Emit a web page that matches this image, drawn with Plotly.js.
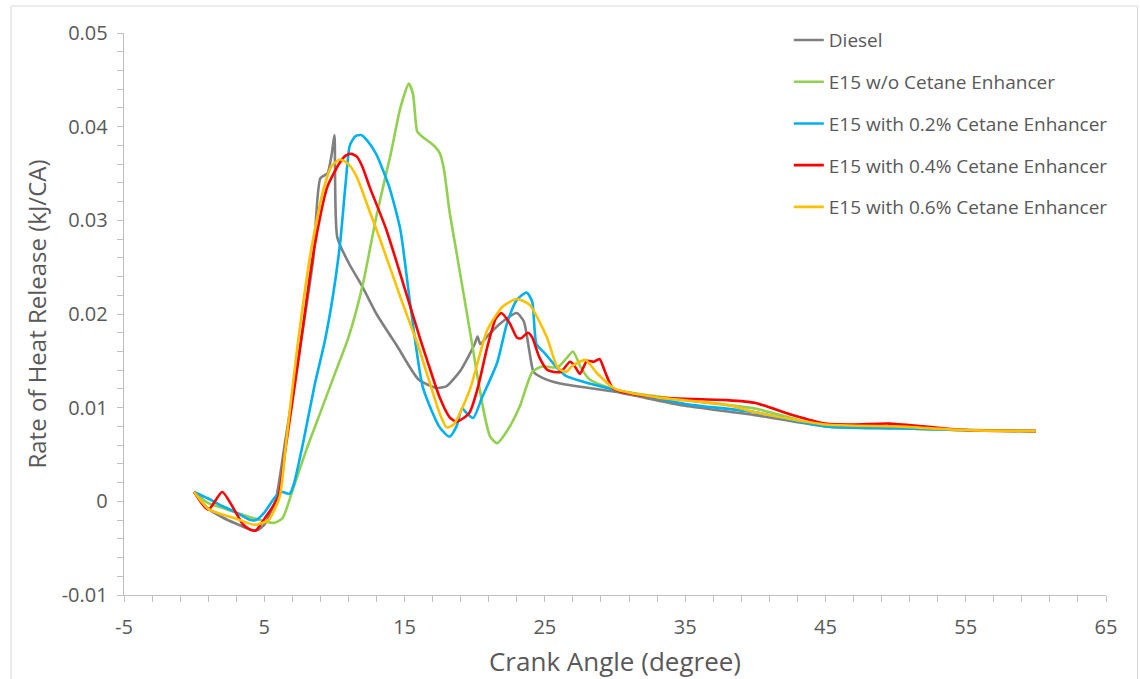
<!DOCTYPE html>
<html>
<head>
<meta charset="utf-8">
<script src="https://cdn.plot.ly/plotly-3.0.1.min.js"></script>
<style>
  html, body { margin: 0; padding: 0; background: #ffffff; }
  #chart { width: 1140px; height: 679px; }
</style>
</head>
<body>
<div id="chart"></div>
<script>
// Rate of heat release vs crank angle for diesel and E15 blends

const seriesNames = [
  "Diesel",
  "E15 w/o Cetane Enhancer",
  "E15 with 0.2% Cetane Enhancer",
  "E15 with 0.4% Cetane Enhancer",
  "E15 with 0.6% Cetane Enhancer"
];

const dieselX = [0, 1, 2, 3, 4, 4.5, 5, 5.8, 6.5, 7.5, 8.5, 9.0, 9.5, 9.8, 10.0, 10.2, 11, 12, 13, 14.5, 16, 17.3, 18, 19, 20, 20.2, 20.4, 21, 22, 23, 23.5, 23.9, 24.2, 24.8, 26, 30, 35, 40, 45, 50, 55, 60];
const dieselY = [0.001, -0.0008, -0.0017, -0.0024, -0.003, -0.0031, -0.0025, 0.0001, 0.0065, 0.016, 0.026, 0.0345, 0.035, 0.037, 0.0391, 0.0282, 0.0255, 0.0229, 0.020, 0.0165, 0.013, 0.0121, 0.0123, 0.014, 0.0168, 0.0176, 0.0168, 0.0178, 0.0192, 0.0201, 0.0192, 0.016, 0.0138, 0.0132, 0.0126, 0.0117, 0.0102, 0.0092, 0.008, 0.0078, 0.0076, 0.0075];

const e15X = [0, 1, 2, 3, 4, 5, 5.7, 6.3, 7, 8, 9, 10, 11, 12, 13, 14, 14.7, 15.3, 15.6, 15.9, 16.2, 17.0, 17.5, 17.8, 18.2, 18.7, 19.2, 19.7, 20.2, 20.7, 21.1, 21.6, 22.3, 23.2, 24.1, 24.8, 25.9, 26.5, 27.0, 27.6, 28.2, 30, 35, 40, 45, 50, 55, 60];
const e15Y = [0.001, -0.0002, -0.0007, -0.0012, -0.0017, -0.0021, -0.0023, -0.0018, 0.0011, 0.0055, 0.0095, 0.0135, 0.0175, 0.023, 0.0305, 0.037, 0.042, 0.0446, 0.0435, 0.0395, 0.039, 0.0381, 0.0372, 0.0355, 0.031, 0.0266, 0.0222, 0.0178, 0.0133, 0.0092, 0.0069, 0.0062, 0.0075, 0.0101, 0.0138, 0.0144, 0.0143, 0.0152, 0.016, 0.0142, 0.013, 0.0119, 0.0108, 0.0099, 0.008, 0.0078, 0.0076, 0.0075];

const ce02X = [0, 1, 2, 3, 4, 4.4, 5, 5.8, 6.3, 6.8, 7.1, 7.8, 8.6, 9.3, 9.9, 10.4, 10.8, 11.1, 11.5, 11.9, 12.4, 13.0, 13.9, 14.7, 15.4, 16.3, 17.5, 18.2, 18.7, 19.1, 19.5, 19.9, 20.5, 21.6, 22.3, 23.0, 23.7, 24.1, 24.4, 25.0, 25.9, 26.5, 30, 33, 35, 40, 45, 50, 55, 60];
const ce02Y = [0.001, 0.0003, -0.0005, -0.0012, -0.002, -0.002, -0.0012, 0.0005, 0.001, 0.0008, 0.0018, 0.0065, 0.0125, 0.017, 0.022, 0.0275, 0.034, 0.038, 0.039, 0.0391, 0.0384, 0.037, 0.0336, 0.029, 0.0211, 0.0122, 0.0079, 0.0069, 0.008, 0.0099, 0.0093, 0.0089, 0.011, 0.0148, 0.019, 0.0215, 0.0223, 0.0213, 0.0168, 0.0158, 0.0142, 0.0134, 0.0119, 0.011, 0.0104, 0.0095, 0.008, 0.0078, 0.0076, 0.0075];

const ce04X = [0, 1.0, 2.0, 2.9, 3.5, 4.1, 4.4, 5.0, 6.0, 6.5, 7.5, 8.5, 9.5, 10.4, 10.8, 11.2, 11.6, 12.0, 12.5, 13.7, 15.2, 16.1, 16.6, 17.5, 18.2, 18.7, 19.6, 20.2, 20.9, 21.5, 21.9, 22.5, 23.0, 23.3, 23.8, 24.1, 24.6, 25.2, 26.1, 26.8, 27.1, 27.5, 28.0, 28.5, 28.9, 29.3, 29.9, 33, 38, 40, 42.7, 45, 47, 49.5, 52, 55, 60];
const ce04Y = [0.001, -0.0009, 0.001, -0.001, -0.0025, -0.0031, -0.0031, -0.0019, 0.0005, 0.0055, 0.0158, 0.0265, 0.0336, 0.0362, 0.0369, 0.0371, 0.0368, 0.0357, 0.0336, 0.029, 0.0218, 0.0174, 0.0151, 0.0111, 0.009, 0.0085, 0.0094, 0.012, 0.0165, 0.0195, 0.0201, 0.019, 0.0175, 0.0174, 0.018, 0.0175, 0.0154, 0.014, 0.0138, 0.0149, 0.0145, 0.0136, 0.015, 0.0149, 0.0152, 0.0138, 0.012, 0.0111, 0.0108, 0.0105, 0.0092, 0.0083, 0.0082, 0.0083, 0.008, 0.0076, 0.0075];

const ce06X = [0, 1.0, 2.0, 2.9, 4.3, 5.3, 6.1, 6.5, 7.3, 8.3, 9.2, 9.8, 10.4, 11.0, 11.6, 12.5, 13.2, 14.7, 15.9, 17.5, 18.0, 18.5, 19.65, 20.9, 22.0, 23.0, 23.9, 25.15, 25.9, 26.5, 27.0, 27.9, 28.7, 30.0, 33, 38, 40, 45, 50, 55, 60];
const ce06Y = [0.001, -0.0008, -0.0014, -0.0018, -0.0025, -0.002, 0.0005, 0.0055, 0.0158, 0.0265, 0.0332, 0.0358, 0.0365, 0.036, 0.0346, 0.031, 0.0282, 0.0218, 0.0169, 0.0094, 0.0079, 0.0082, 0.0119, 0.0183, 0.0208, 0.0216, 0.021, 0.0175, 0.0143, 0.0138, 0.0145, 0.0151, 0.0137, 0.012, 0.0111, 0.0103, 0.0095, 0.0082, 0.008, 0.0076, 0.0075];

const seriesX = [dieselX, e15X, ce02X, ce04X, ce06X];
const seriesY = [dieselY, e15Y, ce02Y, ce04Y, ce06Y];
const seriesColors = ["#808080", "#92d050", "#00b0f0", "#ff0000", "#ffc000"];

const xTickVals = [-5, 5, 15, 25, 35, 45, 55, 65];
const yTickVals = [-0.01, 0, 0.01, 0.02, 0.03, 0.04, 0.05];
const yTickText = ["-0.01", "0", "0.01", "0.02", "0.03", "0.04", "0.05"];

const textColor = "#595959";
const axisColor = "#bfbfbf";
const baseFont = "'Open Sans', sans-serif";

const traces = seriesNames.map((name, i) => ({
  type: "scatter",
  mode: "lines",
  name: name,
  legendgroup: "g" + i,
  x: seriesX[i],
  y: seriesY[i],
  line: { color: seriesColors[i], width: 2.6, shape: "spline", smoothing: 0.6 },
  hoverinfo: "x+y+name"
}));

const layout = {
  width: 1140,
  height: 679,
  margin: { l: 124, r: 34, t: 33, b: 84 },
  paper_bgcolor: "#ffffff",
  plot_bgcolor: "#ffffff",
  showlegend: true,
  legend: {
    x: 0.677, xanchor: "left",
    y: 1.021, yanchor: "top",
    traceorder: "grouped",
    tracegroupgap: 14,
    font: { family: baseFont, size: 19, color: textColor },
    bgcolor: "rgba(0,0,0,0)"
  },
  xaxis: {
    range: [-5, 65],
    tickmode: "array",
    tickvals: xTickVals,
    ticktext: xTickVals.map(String),
    ticks: "outside",
    ticklen: 6,
    tickcolor: axisColor,
    minor: { dtick: 2, tick0: -5, ticks: "outside", ticklen: 6, tickcolor: axisColor },
    showline: true,
    linecolor: axisColor,
    linewidth: 1.3,
    showgrid: false,
    zeroline: false,
    tickfont: { family: baseFont, size: 20, color: textColor },
    ticklabelstandoff: 8,
    title: { text: "Crank Angle (degree)", font: { family: baseFont, size: 26, color: textColor }, standoff: 14 }
  },
  yaxis: {
    range: [-0.01, 0.05],
    tickmode: "array",
    tickvals: yTickVals,
    ticktext: yTickText,
    ticks: "outside",
    ticklen: 6,
    tickcolor: axisColor,
    minor: { dtick: 0.002, tick0: 0, ticks: "outside", ticklen: 6, tickcolor: axisColor },
    showline: true,
    linecolor: axisColor,
    linewidth: 1.3,
    showgrid: false,
    zeroline: false,
    tickfont: { family: baseFont, size: 20, color: textColor },
    ticklabelstandoff: 5,
    title: { text: "Rate of Heat Release (kJ/CA)", font: { family: baseFont, size: 24, color: textColor }, standoff: 8 }
  },
  shapes: [{
    type: "rect",
    xref: "paper", yref: "paper",
    x0: -0.115, x1: 1.032, y0: -0.25, y1: 1.048,
    line: { color: "#d9d9d9", width: 1 },
    fillcolor: "rgba(0,0,0,0)",
    layer: "below"
  }]
};

Plotly.newPlot("chart", traces, layout, { displayModeBar: false, staticPlot: true });
</script>
</body>
</html>
